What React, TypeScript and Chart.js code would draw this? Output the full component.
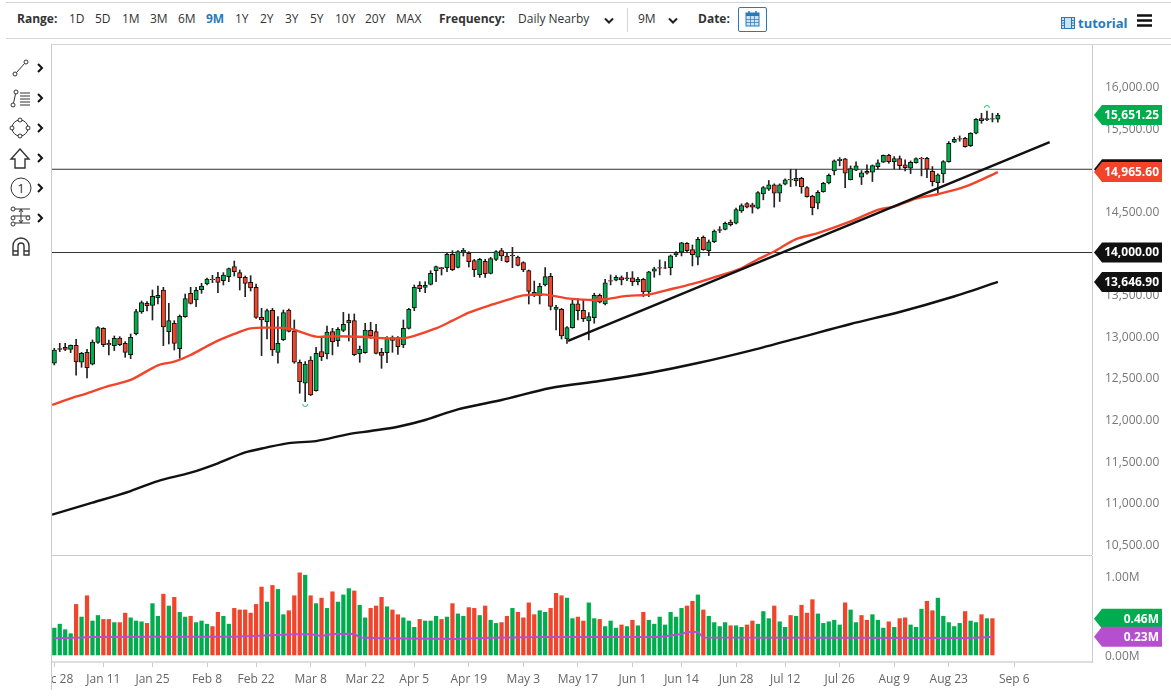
import React, { useEffect, useRef } from 'react';
import { Chart, registerables } from 'chart.js';

Chart.register(...registerables);

const FONT = '"Open Sans", sans-serif';
const UP = '#00ad4e';
const DOWN = '#f0452b';

// daily candles
const opens = [
  12670, 12846, 12862, 12838, 12886, 12682, 12802, 12658, 12922, 13090,
  12910, 12882, 12974, 12910, 12774, 13026, 13286, 13390, 13366, 13458,
  13550, 13050, 13150, 12846, 13230, 13510, 13430, 13554, 13622, 13682,
  13702, 13662, 13710, 13830, 13758, 13702, 13642, 13582, 13222, 13170,
  13306, 12802, 12954, 13310, 13058, 12682, 12430, 12710, 12342, 12810,
  12782, 13050, 12942, 13066, 13154, 13182, 12786, 12798, 13066, 13050,
  12802, 12798, 12978, 12978, 12890, 13090, 13334, 13606, 13582, 13618,
  13782, 13818, 13818, 13978, 13822, 14006, 13990, 13902, 13734, 13894,
  13750, 13918, 14022, 13958, 13970, 13946, 13878, 13782, 13522, 13482,
  13610, 13714, 13318, 13318, 12962, 13099, 13383, 13307, 13179, 13219,
  13487, 13383, 13663, 13667, 13699, 13695, 13695, 13651, 13679, 13527,
  13775, 13819, 13815, 13819, 13971, 14003, 14111, 14035, 13943, 14183,
  14023, 14131, 14275, 14279, 14367, 14353, 14501, 14589, 14573, 14533,
  14705, 14761, 14813, 14713, 14820, 14880, 14864, 14892, 14780, 14676,
  14592, 14732, 14836, 14980, 15104, 15124, 14876, 14988, 14904, 14976,
  14964, 15032, 15084, 15168, 15092, 15128, 15052, 15012, 15080, 15132,
  15132, 14976, 14840, 14944, 15092, 15324, 15368, 15372, 15284, 15432,
  15608, 15596, 15600, 15600,
];
const closes = [
  12830, 12838, 12838, 12886, 12686, 12790, 12618, 12926, 13098, 12894,
  12890, 12970, 12894, 12802, 12982, 13290, 13398, 13362, 13474, 13486,
  13106, 13182, 12910, 13234, 13446, 13390, 13546, 13598, 13682, 13674,
  13642, 13730, 13806, 13770, 13698, 13630, 13574, 13222, 13190, 13302,
  12830, 12910, 13278, 13054, 12682, 12450, 12662, 12290, 12790, 12746,
  13046, 12930, 13078, 13138, 13186, 12774, 12842, 13070, 12998, 12790,
  12766, 12970, 12946, 12870, 13090, 13318, 13582, 13566, 13606, 13750,
  13830, 13806, 13978, 13794, 14010, 14026, 13890, 13794, 13918, 13746,
  13926, 14010, 13958, 13890, 13958, 13846, 13790, 13534, 13486, 13594,
  13710, 13354, 13346, 12998, 13098, 13383, 13303, 13207, 13231, 13487,
  13403, 13635, 13655, 13703, 13671, 13687, 13651, 13679, 13527, 13767,
  13803, 13811, 13811, 13959, 13995, 14115, 14023, 13975, 14159, 14035,
  14127, 14259, 14267, 14351, 14335, 14517, 14565, 14545, 14545, 14721,
  14781, 14813, 14713, 14813, 14872, 14872, 14892, 14788, 14672, 14540,
  14724, 14832, 14928, 15100, 15120, 14952, 15008, 15040, 14956, 14952,
  15044, 15076, 15168, 15092, 15128, 15044, 15020, 15084, 15128, 15124,
  15000, 14852, 14932, 15092, 15312, 15360, 15360, 15272, 15432, 15600,
  15584, 15608, 15608, 15651,
];
const highs = [
  12850, 12910, 12910, 12890, 12958, 12802, 12838, 12950, 13110, 13098,
  12950, 12998, 12990, 12930, 13022, 13318, 13418, 13410, 13550, 13598,
  13582, 13390, 13182, 13250, 13502, 13582, 13582, 13630, 13694, 13726,
  13762, 13758, 13814, 13898, 13790, 13718, 13722, 13622, 13330, 13322,
  13330, 13230, 13310, 13322, 13190, 12710, 12690, 12750, 12862, 12990,
  13118, 13090, 13098, 13282, 13262, 13262, 12878, 13150, 13162, 13138,
  12850, 12990, 12998, 12990, 13190, 13330, 13610, 13650, 13650, 13782,
  13838, 13822, 13990, 14022, 14022, 14050, 14010, 13918, 13930, 13918,
  13942, 14022, 14050, 13990, 14062, 13958, 13890, 13790, 13658, 13630,
  13818, 13750, 13366, 13330, 13110, 13439, 13447, 13431, 13279, 13511,
  13503, 13679, 13731, 13723, 13719, 13763, 13771, 13703, 13691, 13775,
  13823, 13911, 13891, 13971, 14011, 14123, 14119, 14091, 14183, 14199,
  14151, 14271, 14311, 14367, 14391, 14533, 14585, 14601, 14593, 14733,
  14793, 14865, 14825, 14825, 14884, 15000, 15000, 14904, 14792, 14688,
  14744, 14844, 14944, 15112, 15140, 15132, 15040, 15088, 14984, 15052,
  15052, 15112, 15172, 15180, 15152, 15160, 15112, 15100, 15136, 15144,
  15144, 15032, 14944, 15104, 15332, 15384, 15400, 15384, 15440, 15608,
  15672, 15700, 15672, 15672,
];
const lows = [
  12650, 12810, 12822, 12798, 12526, 12622, 12494, 12650, 12910, 12870,
  12770, 12822, 12882, 12742, 12726, 13010, 13270, 13298, 13190, 13382,
  12882, 12902, 12830, 12730, 13222, 13382, 13350, 13510, 13610, 13638,
  13518, 13610, 13650, 13718, 13550, 13470, 13538, 13210, 12762, 12962,
  12762, 12670, 12942, 13046, 12670, 12310, 12210, 12282, 12334, 12702,
  12722, 12770, 12874, 13050, 12938, 12762, 12682, 12790, 12970, 12782,
  12610, 12678, 12802, 12778, 12858, 13082, 13302, 13530, 13518, 13610,
  13650, 13730, 13770, 13782, 13814, 13958, 13826, 13710, 13702, 13702,
  13742, 13902, 13902, 13882, 13818, 13838, 13770, 13382, 13470, 13382,
  13598, 13310, 13070, 12962, 12910, 13091, 13191, 13171, 12951, 13151,
  13395, 13371, 13611, 13659, 13611, 13663, 13603, 13611, 13471, 13471,
  13703, 13731, 13807, 13731, 13951, 13959, 14011, 13839, 13851, 14027,
  13963, 14119, 14239, 14271, 14319, 14345, 14481, 14537, 14473, 14525,
  14633, 14745, 14545, 14613, 14812, 14792, 14800, 14712, 14664, 14452,
  14524, 14724, 14824, 14932, 15040, 14780, 14872, 14984, 14816, 14940,
  14852, 15000, 15080, 15072, 15004, 15000, 14980, 14948, 15072, 14920,
  14900, 14800, 14712, 14840, 15084, 15320, 15336, 15264, 15272, 15424,
  15552, 15584, 15568, 15564,
];

// volume in millions, one bar short of the candles
const volumes = [
  0.34, 0.39, 0.32, 0.27, 0.64, 0.48, 0.75, 0.43, 0.50, 0.45,
  0.45, 0.41, 0.41, 0.53, 0.47, 0.43, 0.42, 0.40, 0.65, 0.49,
  0.77, 0.62, 0.73, 0.54, 0.48, 0.49, 0.41, 0.43, 0.39, 0.36,
  0.54, 0.49, 0.39, 0.59, 0.57, 0.57, 0.53, 0.64, 0.86, 0.67,
  0.88, 0.83, 0.51, 0.56, 0.75, 1.04, 1.01, 0.75, 0.65, 0.72,
  0.59, 0.80, 0.67, 0.76, 0.84, 0.81, 0.63, 0.47, 0.59, 0.62,
  0.73, 0.61, 0.57, 0.51, 0.47, 0.43, 0.35, 0.45, 0.43, 0.43,
  0.49, 0.45, 0.48, 0.65, 0.52, 0.49, 0.60, 0.59, 0.50, 0.62,
  0.44, 0.40, 0.41, 0.49, 0.59, 0.54, 0.47, 0.66, 0.51, 0.56,
  0.54, 0.59, 0.78, 0.75, 0.72, 0.46, 0.48, 0.43, 0.66, 0.46,
  0.45, 0.36, 0.43, 0.34, 0.38, 0.36, 0.44, 0.37, 0.54, 0.44,
  0.39, 0.48, 0.38, 0.54, 0.48, 0.59, 0.62, 0.68, 0.76, 0.57,
  0.49, 0.41, 0.36, 0.41, 0.37, 0.37, 0.35, 0.38, 0.43, 0.39,
  0.55, 0.46, 0.62, 0.42, 0.35, 0.50, 0.49, 0.63, 0.53, 0.70,
  0.52, 0.40, 0.42, 0.44, 0.38, 0.66, 0.57, 0.41, 0.50, 0.44,
  0.51, 0.44, 0.34, 0.42, 0.35, 0.46, 0.47, 0.38, 0.35, 0.58,
  0.68, 0.56, 0.72, 0.49, 0.41, 0.36, 0.40, 0.55, 0.43, 0.41,
  0.51, 0.46, 0.46,
];
const volumeDirs =
  'ggggrgrggr' + 'rgrrgggrgg' + 'rgrggrgggr' + 'rggrrrrrrg' + 'rggrrrgrgr' +
  'grgggrggrr' + 'rgrrgggrgg' + 'grgrggrrgr' + 'ggrrgrrrrg' + 'grrrggrrgg' +
  'rgggrgrgrg' + 'ggggggrrgr' + 'ggggrggrrg' + 'ggrggrgrrr' + 'gggggrggrr' +
  'gggrgrrggg' + 'rrgggggrgg' + 'rgr';

// moving averages: bar index and value, read at points along each curve
const ma50Index = [-0.4, 3, 6, 10, 14, 19, 22, 25, 29, 33, 36, 40, 43, 45, 48, 51, 57, 61, 65, 70, 73, 76, 80, 84, 86, 90, 94, 98, 101, 105, 109, 112, 117, 121, 126, 129, 132, 136, 140, 146, 151, 154, 158, 162, 167, 173];
const ma50Values = [12170, 12250, 12310, 12398, 12470, 12646, 12690, 12770, 12910, 13022, 13090, 13098, 13090, 13050, 12990, 12995, 12986, 12970, 12982, 13090, 13182, 13278, 13370, 13450, 13486, 13494, 13450, 13431, 13439, 13479, 13495, 13543, 13623, 13703, 13811, 13919, 14013, 14161, 14233, 14373, 14513, 14552, 14649, 14700, 14790, 14966];
const ma200Index = [-0.4, 7, 14, 19, 25, 30, 35, 39, 43, 48, 54, 58, 63, 68, 74, 82, 91, 100, 109, 118, 128, 137, 146, 155, 164, 173];
const ma200Values = [10852, 10996, 11136, 11256, 11356, 11469, 11600, 11660, 11712, 11736, 11820, 11857, 11908, 11989, 12117, 12229, 12373, 12457, 12553, 12673, 12829, 12985, 13142, 13286, 13454, 13647];
const volAvgIndex = [0, 5, 7, 20, 33, 44, 47, 49, 51, 55, 56, 60, 74, 78, 89, 91, 111, 115, 116, 118, 119, 167, 172];
const volAvgValues = [0.211, 0.22, 0.228, 0.232, 0.232, 0.262, 0.262, 0.24, 0.266, 0.27, 0.22, 0.212, 0.203, 0.215, 0.228, 0.228, 0.228, 0.266, 0.29, 0.29, 0.22, 0.215, 0.228];

// hand-drawn trend line and horizontal levels
const trendIndex = [94.2, 182.5];
const trendValues = [12938, 15327];
const levels = [15000, 14000];

const priceTicks = [16000, 15500, 15000, 14500, 14000, 13500, 13000, 12500, 12000, 11500, 11000, 10500];
const volumeTicks = [1, 0];
const dateTickIndex = [0, 9, 18, 28, 37, 47, 57, 66, 76, 86, 96, 106, 115, 125, 134, 144, 154, 164, 176];
const dateTickLabels = ['Dec 28', 'Jan 11', 'Jan 25', 'Feb 8', 'Feb 22', 'Mar 8', 'Mar 22', 'Apr 5', 'Apr 19', 'May 3', 'May 17', 'Jun 1', 'Jun 14', 'Jun 28', 'Jul 12', 'Jul 26', 'Aug 9', 'Aug 23', 'Sep 6'];

const priceTagValues = [15000, 14965.6, 15651.25, 14000, 13646.9];
const priceTagColors = ['#111', DOWN, UP, '#111', '#111'];
const volumeTagValues = [0.46, 0.23];
const volumeTagColors = [UP, '#b64fcf'];

const extremeIndex = [46, 171];
const extremeValues = [12169, 15748];

const rangeLabels = ['1D', '5D', '1M', '3M', '6M', '9M', '1Y', '2Y', '3Y', '5Y', '10Y', '20Y', 'MAX'];
const rangeLefts = [69, 95, 122, 150, 178, 206, 235, 260, 285, 310, 335, 365, 396];

const X_MIN = -0.42;
const X_MAX = 190.26;

const fmtPrice = (v: number) => v.toLocaleString('en-US', { minimumFractionDigits: 2, maximumFractionDigits: 2 });
const fmtVol = (v: number) => v.toFixed(2) + 'M';
const pts = (xs: number[], ys: number[]) => xs.map((x, i) => ({ x, y: ys[i] }));

// keep the plot area flush with the canvas, chart.js would inset it for half a label
const noPadding = (s: any) => {
  s.paddingTop = 0;
  s.paddingBottom = 0;
  s.paddingLeft = 0;
  s.paddingRight = 0;
};

// value tags on the right axis, drawn on top of the tick labels
function tagsPlugin(values: number[], colors: string[], fmt: (v: number) => string) {
  return {
    id: 'tags',
    afterDraw(chart: any) {
      const { ctx } = chart;
      const yScale = chart.scales.y;
      const left = chart.chartArea.right + 2;
      const right = left + 68;
      ctx.save();
      values.forEach((v, i) => {
        const y = yScale.getPixelForValue(v);
        ctx.fillStyle = colors[i];
        ctx.beginPath();
        ctx.moveTo(left, y);
        ctx.lineTo(left + 8, y - 10);
        ctx.lineTo(right, y - 10);
        ctx.lineTo(right, y + 10);
        ctx.lineTo(left + 8, y + 10);
        ctx.closePath();
        ctx.fill();
        ctx.fillStyle = '#fff';
        ctx.font = 'bold 12px ' + FONT;
        ctx.textAlign = 'right';
        ctx.textBaseline = 'middle';
        ctx.fillText(fmt(v), right - 3, y + 0.5);
      });
      ctx.restore();
    },
  };
}

// small green arcs over the highest high and under the lowest low
const extremesPlugin = {
  id: 'extremes',
  afterDatasetsDraw(chart: any) {
    const { ctx, scales } = chart;
    ctx.save();
    ctx.strokeStyle = '#22c36b';
    ctx.lineWidth = 1;
    extremeIndex.forEach((ix, i) => {
      const x = scales.x.getPixelForValue(ix);
      const y = scales.y.getPixelForValue(extremeValues[i]);
      ctx.beginPath();
      if (i === 0) ctx.arc(x, y - 1, 2.5, 0, Math.PI);
      else ctx.arc(x, y + 1, 2.5, Math.PI, 2 * Math.PI);
      ctx.stroke();
    });
    ctx.restore();
  },
};

const lineSet = (data: any[], color: string, width: number, order: number, tension = 0) => ({
  type: 'line' as const,
  data,
  borderColor: color,
  borderWidth: width,
  pointRadius: 0,
  tension,
  order,
});

function Toolbar() {
  const text = (s: string, left: number, extra: React.CSSProperties = {}) => (
    <span key={s + left} style={{ position: 'absolute', left, top: 10, lineHeight: '18px', fontSize: 12, color: '#333', whiteSpace: 'nowrap', ...extra }}>{s}</span>
  );
  const chevron = (left: number) => (
    <svg key={left} style={{ position: 'absolute', left, top: 17 }} width="10" height="8">
      <path d="M1 1.5 L5 5.5 L9 1.5" fill="none" stroke="#222" strokeWidth="2" />
    </svg>
  );
  return (
    <div style={{ position: 'absolute', left: 0, top: 0, width: 1171, height: 44, fontFamily: FONT }}>
      <div style={{ position: 'absolute', left: 6, right: 0, top: 2, height: 1, background: '#d4d4d4' }} />
      <div style={{ position: 'absolute', left: 6, right: 0, top: 38, height: 1, background: '#d4d4d4' }} />
      {text('Range:', 17, { fontWeight: 700 })}
      {rangeLabels.map((r, i) => text(r, rangeLefts[i], r === '9M' ? { color: '#2a7ab8', fontWeight: 700 } : {}))}
      {text('Frequency:', 439, { fontWeight: 700 })}
      {text('Daily Nearby', 518)}
      {chevron(604)}
      <div style={{ position: 'absolute', left: 627, top: 8, width: 1, height: 24, background: '#d4d4d4' }} />
      {text('9M', 638)}
      {chevron(668)}
      {text('Date:', 698, { fontWeight: 700 })}
      <div style={{ position: 'absolute', left: 738, top: 7, width: 27, height: 23, border: '1px solid #2a7ab8', borderRadius: 2 }}>
        <svg width="27" height="23">
          <rect x="7" y="5" width="13" height="13" fill="#cfe2f3" stroke="#2a7ab8" />
          <rect x="7" y="5" width="13" height="3" fill="#2a7ab8" />
          <path d="M11.5 8 V18 M15.5 8 V18 M7 11.5 H20 M7 14.5 H20" stroke="#2a7ab8" strokeWidth="0.7" />
          <path d="M10 3 V6 M17 3 V6" stroke="#2a7ab8" strokeWidth="1.5" />
        </svg>
      </div>
      <svg style={{ position: 'absolute', left: 1061, top: 17 }} width="14" height="12">
        <rect x="0.5" y="0.5" width="13" height="11" fill="#cfe2f3" stroke="#2a7ab8" />
        <path d="M3.5 0 V12 M10.5 0 V12 M0 3.5 H3.5 M0 6 H3.5 M0 8.5 H3.5 M10.5 3.5 H14 M10.5 6 H14 M10.5 8.5 H14" stroke="#2a7ab8" />
      </svg>
      {text('tutorial', 1078, { top: 14, color: '#2a7ab8', fontWeight: 700, fontSize: 13 })}
      <svg style={{ position: 'absolute', left: 1137, top: 14 }} width="15" height="13">
        <path d="M0 1.5 H15 M0 6.5 H15 M0 11.5 H15" stroke="#111" strokeWidth="2.4" />
      </svg>
    </div>
  );
}

function DrawingTools() {
  const rows = [68, 98, 128, 158, 188, 218];
  const s = { fill: 'none', stroke: '#333', strokeWidth: 1 };
  return (
    <svg style={{ position: 'absolute', left: 0, top: 50 }} width="50" height="220" fontFamily={FONT}>
      <g {...s} transform="translate(0,-50)">
        <circle cx="15" cy="74" r="2" /><circle cx="26" cy="62" r="2" /><path d="M16.5 72.5 L24.5 63.5" />
        <circle cx="13" cy="105" r="2" /><circle cx="16" cy="92" r="2" /><path d="M13.5 103 L15.5 94 M20 93 H30 M20 96 H30 M20 99 H30 M20 102 H30 M20 105 H30" />
        <circle cx="20" cy="128" r="8" /><circle cx="20" cy="120" r="2" fill="#fff" /><circle cx="20" cy="136" r="2" fill="#fff" /><circle cx="12" cy="128" r="2" fill="#fff" /><circle cx="28" cy="128" r="2" fill="#fff" />
        <path d="M20 149 L29 159 H25 V168 H15 V159 H11 Z" strokeWidth="1.4" />
        <circle cx="21" cy="188" r="10" />
        <path d="M13 209 H30 M13 216 H30 M13 223 H30 M21 210 V222 M19 212 L21 209 L23 212 M19 220 L21 223 L23 220" />
        <circle cx="13" cy="209" r="2" fill="#fff" /><circle cx="13" cy="218" r="2" fill="#fff" /><circle cx="13" cy="224" r="2" fill="#fff" /><circle cx="28" cy="218" r="2" fill="#fff" />
        <path d="M13 255 V246 A8 8 0 0 1 29 246 V255 H24 V246 A3 3 0 0 0 18 246 V255 Z M13 251 H18 M24 251 H29" strokeWidth="1.4" />
      </g>
      <text x="21" y="143" textAnchor="middle" fontSize="13" fill="#333">1</text>
      {rows.map(y => (
        <path key={y} d={`M38 ${y - 54} L42 ${y - 50} L38 ${y - 46}`} fill="none" stroke="#111" strokeWidth="2" />
      ))}
    </svg>
  );
}

export default function App() {
  const priceRef = useRef<HTMLCanvasElement>(null);
  const volumeRef = useRef<HTMLCanvasElement>(null);

  useEffect(() => {
    const wicks = opens.map((_, i) => ({ x: i, y: [lows[i], highs[i]] }));
    const bodies = opens.map((o, i) => ({ x: i, y: [o, closes[i]] }));
    const bodyColors = opens.map((o, i) => (closes[i] >= o ? UP : DOWN));

    const priceChart = new Chart(priceRef.current as HTMLCanvasElement, {
      type: 'bar',
      data: {
        datasets: [
          ...levels.map(l => lineSet([{ x: X_MIN, y: l }, { x: X_MAX, y: l }], '#333', 1, 5)),
          { data: wicks, backgroundColor: '#222', barThickness: 1, grouped: false, order: 4 },
          { data: bodies, backgroundColor: bodyColors, borderColor: '#111', borderWidth: 1, borderSkipped: false, barThickness: 4.4, grouped: false, order: 3 },
          lineSet(pts(ma200Index, ma200Values), '#111', 2.4, 2, 0.3),
          lineSet(pts(ma50Index, ma50Values), DOWN, 2.4, 1, 0.3),
          lineSet(pts(trendIndex, trendValues), '#111', 2.4, 0),
        ] as any,
      },
      options: {
        animation: false,
        responsive: false,
        layout: { padding: 0, autoPadding: false },
        plugins: { legend: { display: false }, tooltip: { enabled: false } },
        scales: {
          x: { type: 'linear', display: false, offset: false, min: X_MIN, max: X_MAX },
          y: {
            position: 'right',
            offset: false,
            min: 10368,
            max: 16492,
            afterBuildTicks: (s: any) => { s.ticks = priceTicks.map(value => ({ value })); },
            afterFit: (s: any) => { s.width = 79; noPadding(s); },
            grid: { display: false },
            border: { color: '#ccc' },
            ticks: { autoSkip: false, padding: 5, labelOffset: 1.5, color: '#777', font: { family: FONT, size: 12 }, callback: (v: any) => fmtPrice(Number(v)) },
          },
        },
      },
      plugins: [extremesPlugin, tagsPlugin(priceTagValues, priceTagColors, fmtPrice)],
    } as any);

    const volumeChart = new Chart(volumeRef.current as HTMLCanvasElement, {
      type: 'bar',
      data: {
        datasets: [
          lineSet(pts(volAvgIndex, volAvgValues), '#b64fcf', 2, 0),
          {
            data: volumes.map((v, i) => ({ x: i, y: v })),
            backgroundColor: volumes.map((_, i) => (volumeDirs[i] === 'g' ? UP : DOWN)),
            barThickness: 3.6,
            order: 1,
          },
        ] as any,
      },
      options: {
        animation: false,
        responsive: false,
        layout: { padding: 0, autoPadding: false },
        plugins: { legend: { display: false }, tooltip: { enabled: false } },
        scales: {
          x: {
            type: 'linear',
            offset: false,
            min: X_MIN,
            max: X_MAX,
            afterBuildTicks: (s: any) => { s.ticks = dateTickIndex.map(value => ({ value })); },
            afterFit: (s: any) => { s.height = 33; noPadding(s); },
            grid: { offset: false, drawOnChartArea: false, tickLength: 5, color: '#ccc' },
            border: { color: '#ddd', width: 2 },
            ticks: {
              autoSkip: false,
              maxRotation: 0,
              padding: 5,
              color: '#666',
              font: { family: FONT, size: 12 },
              callback: (v: any) => dateTickLabels[dateTickIndex.indexOf(Number(v))] ?? '',
            },
          },
          y: {
            position: 'right',
            offset: false,
            min: -0.089,
            max: 1.253,
            afterBuildTicks: (s: any) => { s.ticks = volumeTicks.map(value => ({ value })); },
            afterFit: (s: any) => { s.width = 79; noPadding(s); },
            grid: { display: false },
            border: { color: '#ccc' },
            ticks: { autoSkip: false, padding: 5, labelOffset: 1.5, color: '#777', font: { family: FONT, size: 12 }, callback: (v: any) => fmtVol(Number(v)) },
          },
        },
      },
      plugins: [tagsPlugin(volumeTagValues, volumeTagColors, fmtVol)],
    } as any);

    return () => {
      priceChart.destroy();
      volumeChart.destroy();
    };
  }, []);

  return (
    <div style={{ position: 'fixed', inset: 0, background: '#fff', overflow: 'hidden' }}>
      <Toolbar />
      <DrawingTools />
      <div style={{ position: 'absolute', left: 51, right: 0, top: 44, height: 1, background: '#d4d4d4' }} />
      <div style={{ position: 'absolute', left: 51, top: 44, width: 1, height: 646, background: '#ccc' }} />
      <div style={{ position: 'absolute', left: 52, top: 555, width: 1040, height: 1, background: '#ccc' }} />
      <canvas ref={priceRef} width={1119} height={510} style={{ position: 'absolute', left: 52, top: 45 }} />
      <canvas ref={volumeRef} width={1119} height={139} style={{ position: 'absolute', left: 52, top: 556 }} />
    </div>
  );
}
